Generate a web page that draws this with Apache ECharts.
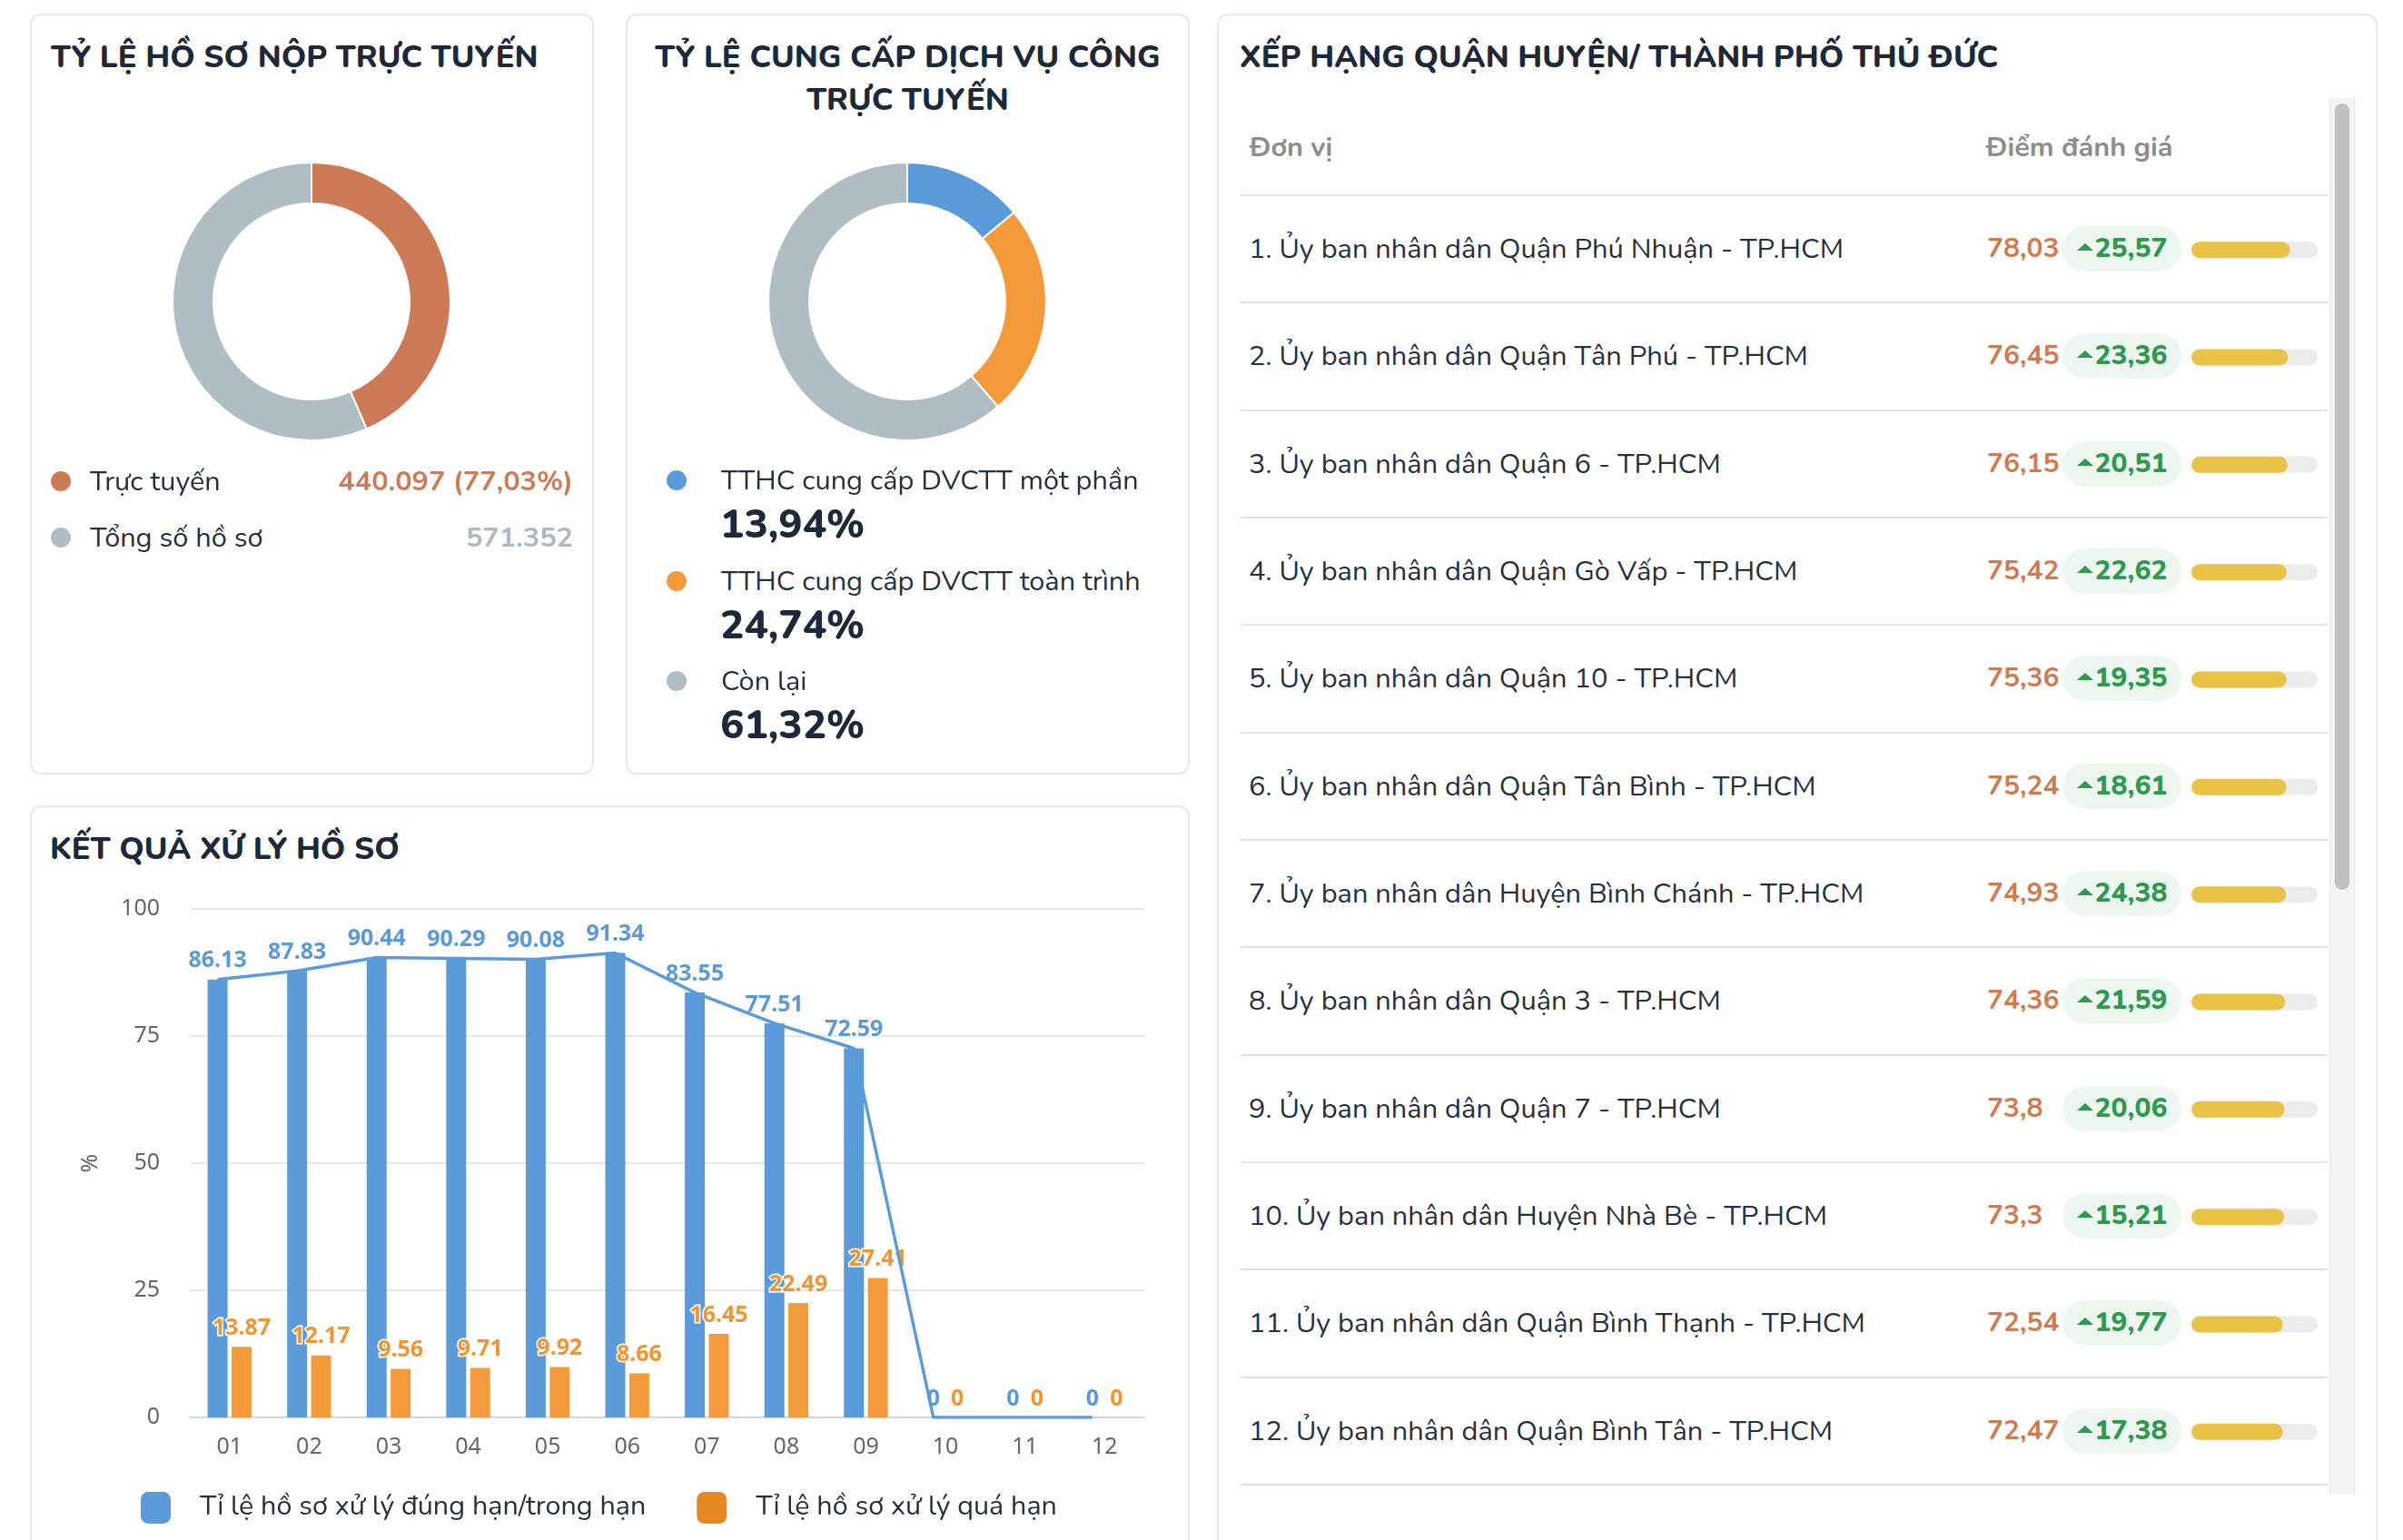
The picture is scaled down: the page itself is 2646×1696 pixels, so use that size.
<!DOCTYPE html>
<html lang="vi">
<head>
<meta charset="utf-8">
<script src="https://cdn.jsdelivr.net/npm/echarts@6/dist/echarts.min.js"></script>
<style>
html,body{margin:0;padding:0;background:#fff;width:2646px;height:1696px;overflow:hidden;
  font-family:"Nunito","Noto Sans",sans-serif;color:#27303d;}
.panel{position:absolute;box-sizing:border-box;border:2px solid #e8e8e8;border-radius:12px;background:#fff;}
.title{position:absolute;font-weight:800;font-size:34.6px;color:#1d2939;line-height:47px;white-space:nowrap;}
.dot{position:absolute;width:22px;height:22px;border-radius:50%;}
.lg{position:absolute;font-size:30.7px;line-height:40px;white-space:nowrap;color:#27303d;}
.lgv{position:absolute;font-size:44px;line-height:56px;font-weight:800;white-space:nowrap;color:#1d2939;}
#table{position:absolute;left:1366px;top:108px;width:1197px;}
.hdr{position:relative;height:108px;box-sizing:border-box;border-bottom:2px solid #e3e3e3;font-weight:700;color:#8d8d8d;font-size:30.7px;}
.hdr span{position:absolute;top:0;line-height:108px;}
.row{position:relative;height:118.33px;box-sizing:border-box;border-bottom:2px solid #e3e3e3;font-size:30.8px;}
.row .nm{position:absolute;left:9px;top:0;line-height:116px;color:#27303d;white-space:nowrap;}
.row .sc{position:absolute;left:822px;top:0;line-height:116px;color:#d07a50;font-weight:700;font-size:30px;}
.row .bd{position:absolute;left:905px;top:33px;width:131px;height:50px;border-radius:25px;background:#edf7f0;
  color:#2e9a50;font-weight:800;font-size:30px;line-height:50px;text-align:center;white-space:nowrap;}
.row .bd i{display:inline-block;width:0;height:0;border-left:9px solid transparent;border-right:9px solid transparent;
  border-bottom:8px solid #2e9a50;vertical-align:7px;margin-right:2px;}
</style>
</head>
<body>
<div class="panel" style="left:33px;top:15px;width:621px;height:838px;"></div>
<div class="panel" style="left:689px;top:15px;width:621px;height:838px;"></div>
<div class="panel" style="left:33px;top:887px;width:1277px;height:860px;"></div>
<div class="panel" style="left:1340px;top:15px;width:1278px;height:1750px;"></div>

<div class="title" style="left:56px;top:39px;">TỶ LỆ HỒ SƠ NỘP TRỰC TUYẾN</div>
<div class="title" style="left:689px;top:39px;width:621px;text-align:center;white-space:normal;">TỶ LỆ CUNG CẤP DỊCH VỤ CÔNG<br>TRỰC TUYẾN</div>
<div class="title" style="left:55px;top:911px;">KẾT QUẢ XỬ LÝ HỒ SƠ</div>
<div class="title" style="left:1365px;top:39px;">XẾP HẠNG QUẬN HUYỆN/ THÀNH PHỐ THỦ ĐỨC</div>

<div id="pie1" style="position:absolute;left:34px;top:15px;width:621px;height:500px;"></div>
<div id="pie2" style="position:absolute;left:690px;top:15px;width:620px;height:500px;"></div>
<div id="legend1"></div>
<div id="legend2"></div>

<div id="bars" style="position:absolute;left:34px;top:887px;width:1276px;height:809px;"></div>

<div id="table"></div>
<div id="prog" style="position:absolute;left:2413px;top:216px;width:139px;height:1420px;"></div>
<div style="position:absolute;left:2565px;top:108px;width:26px;height:1538px;background:#f4f4f4;border-left:1px solid #e6e6e6;border-right:1px solid #e6e6e6;"></div>
<div style="position:absolute;left:2571px;top:114px;width:16px;height:866px;background:#c1c1c1;border-radius:8px;"></div>

<script>
// ---------- data ----------
const onlineLabels = ['Trực tuyến', 'Tổng số hồ sơ'];
const onlineValues = [440097, 571352];
const onlineColors = ['#cd7b57', '#b0bdc4'];

const serviceLabels = ['TTHC cung cấp DVCTT một phần', 'TTHC cung cấp DVCTT toàn trình', 'Còn lại'];
const serviceValues = [13.94, 24.74, 61.32];
const serviceColors = ['#5a9bdc', '#f39a3b', '#b0bdc4'];

const months = ['01', '02', '03', '04', '05', '06', '07', '08', '09', '10', '11', '12'];
const onTimeRate = [86.13, 87.83, 90.44, 90.29, 90.08, 91.34, 83.55, 77.51, 72.59, 0, 0, 0];
const overdueRate = [13.87, 12.17, 9.56, 9.71, 9.92, 8.66, 16.45, 22.49, 27.41, 0, 0, 0];
const seriesNames = ['Tỉ lệ hồ sơ xử lý đúng hạn/trong hạn', 'Tỉ lệ hồ sơ xử lý quá hạn'];
const yTicks = [0, 25, 50, 75, 100];

const units = ['Ủy ban nhân dân Quận Phú Nhuận - TP.HCM', 'Ủy ban nhân dân Quận Tân Phú - TP.HCM',
  'Ủy ban nhân dân Quận 6 - TP.HCM', 'Ủy ban nhân dân Quận Gò Vấp - TP.HCM',
  'Ủy ban nhân dân Quận 10 - TP.HCM', 'Ủy ban nhân dân Quận Tân Bình - TP.HCM',
  'Ủy ban nhân dân Huyện Bình Chánh - TP.HCM', 'Ủy ban nhân dân Quận 3 - TP.HCM',
  'Ủy ban nhân dân Quận 7 - TP.HCM', 'Ủy ban nhân dân Huyện Nhà Bè - TP.HCM',
  'Ủy ban nhân dân Quận Bình Thạnh - TP.HCM', 'Ủy ban nhân dân Quận Bình Tân - TP.HCM'];
const scores = [78.03, 76.45, 76.15, 75.42, 75.36, 75.24, 74.93, 74.36, 73.8, 73.3, 72.54, 72.47];
const changes = [25.57, 23.36, 20.51, 22.62, 19.35, 18.61, 24.38, 21.59, 20.06, 15.21, 19.77, 17.38];

// ---------- helpers ----------
const vn = v => String(v).replace('.', ',');
const thousands = v => String(v).replace(/\B(?=(\d{3})+(?!\d))/g, '.');

// ---------- donuts ----------
function donut(el, labels, values, colors) {
  const c = echarts.init(document.getElementById(el), null, {renderer: 'canvas'});
  c.setOption({
    animation: false,
    series: [{
      type: 'pie', radius: [108, 153], center: [309, 317], startAngle: 90, clockwise: true,
      silent: true, label: {show: false}, labelLine: {show: false},
      itemStyle: {borderColor: '#fff', borderWidth: 2},
      data: labels.map((n, i) => ({name: n, value: values[i], itemStyle: {color: colors[i]}}))
    }]
  });
}
donut('pie1', onlineLabels, onlineValues, onlineColors);
donut('pie2', serviceLabels, serviceValues, serviceColors);

// legend 1
(function () {
  const pct = (onlineValues[0] / onlineValues[1] * 100).toFixed(2).replace('.', ',');
  const vals = [thousands(onlineValues[0]) + ' (' + pct + '%)', thousands(onlineValues[1])];
  const valColors = ['#cd7b57', '#adb9c1'];
  const ys = [530, 592];
  let h = '';
  onlineLabels.forEach((n, i) => {
    h += `<div class="dot" style="left:56px;top:${ys[i] - 11}px;background:${onlineColors[i]}"></div>`;
    h += `<div class="lg" style="left:99px;top:${ys[i] - 20}px;">${n}</div>`;
    h += `<div class="lg" style="left:290px;width:341px;text-align:right;top:${ys[i] - 20}px;color:${valColors[i]};font-weight:700;">${vals[i]}</div>`;
  });
  document.getElementById('legend1').innerHTML = h;
})();
// legend 2
(function () {
  const ys = [529, 640, 750];
  let h = '';
  serviceLabels.forEach((n, i) => {
    h += `<div class="dot" style="left:734px;top:${ys[i] - 11}px;background:${serviceColors[i]}"></div>`;
    h += `<div class="lg" style="left:794px;top:${ys[i] - 20}px;">${n}</div>`;
    h += `<div class="lgv" style="left:793px;top:${ys[i] + 49 - 28}px;">${vn(serviceValues[i])}%</div>`;
  });
  document.getElementById('legend2').innerHTML = h;
})();

// ---------- bar chart ----------
(function () {
  const c = echarts.init(document.getElementById('bars'));
  const labelBase = {show: true, position: 'top', distance: 8, fontSize: 25, fontWeight: 'bold',
    fontFamily: 'Noto Sans', textBorderColor: '#fff', textBorderWidth: 3};
  const gridBox = {top: 114, width: 1051, height: 560};
  c.setOption({
    animation: false,
    grid: [Object.assign({left: 175}, gridBox), Object.assign({left: 161.7}, gridBox)],
    legend: {
      left: 116, top: 751, itemWidth: 33, itemHeight: 35, itemGap: 56, icon: 'roundRect', selectedMode: false,
      textStyle: {fontSize: 30.5, color: '#27303d', fontFamily: 'Nunito, Noto Sans', padding: [0, 0, 0, 27]},
      data: [{name: seriesNames[0], itemStyle: {color: '#5b9bd9'}}, {name: seriesNames[1], itemStyle: {color: '#e8861f'}}]
    },
    xAxis: [
      {type: 'category', data: months, gridIndex: 0,
        axisLine: {lineStyle: {color: '#ccd6eb', width: 2}}, axisTick: {show: false},
        axisLabel: {color: '#666', fontSize: 25, margin: 20, fontFamily: 'Noto Sans'}},
      {type: 'category', data: months, gridIndex: 1, show: false}
    ],
    yAxis: [
      {type: 'value', min: yTicks[0], max: yTicks[yTicks.length - 1], interval: yTicks[1] - yTicks[0], gridIndex: 0,
        name: '%', nameLocation: 'middle', nameGap: 97, nameRotate: 90,
        nameTextStyle: {color: '#666', fontSize: 25, fontFamily: 'Noto Sans'},
        axisLine: {show: false}, axisTick: {show: false},
        axisLabel: {color: '#666', fontSize: 25, margin: 33, fontFamily: 'Noto Sans'},
        splitLine: {lineStyle: {color: '#e6e6e6', width: 2}}},
      {type: 'value', min: yTicks[0], max: yTicks[yTicks.length - 1], gridIndex: 1, show: false}
    ],
    series: [
      {name: seriesNames[0], type: 'bar', data: onTimeRate, barWidth: 22, barGap: '20%',
        itemStyle: {color: '#5b9bd9'}, label: Object.assign({color: '#5a9ad8'}, labelBase), silent: true},
      {name: seriesNames[1], type: 'bar', data: overdueRate, barWidth: 22,
        itemStyle: {color: '#f39a3b'}, label: Object.assign({color: '#f0952f'}, labelBase), silent: true},
      {name: 'trend', type: 'line', data: onTimeRate, xAxisIndex: 1, yAxisIndex: 1, symbol: 'none',
        lineStyle: {color: '#5b9bd9', width: 3.5}, silent: true}
    ]
  });
})();

// ---------- ranking table ----------
(function () {
  let h = '<div class="hdr"><span style="left:10px">Đơn vị</span><span style="left:821px">Điểm đánh giá</span></div>';
  units.forEach((u, i) => {
    h += `<div class="row"><span class="nm">${i + 1}. ${u}</span><span class="sc">${vn(scores[i])}</span>` +
      `<span class="bd"><i></i>${vn(changes[i])}</span></div>`;
  });
  document.getElementById('table').innerHTML = h;
  const c = echarts.init(document.getElementById('prog'));
  c.setOption({
    animation: false,
    grid: {left: 0, right: 0, top: 0, bottom: 0},
    xAxis: {type: 'value', min: 0, max: 100, show: false},
    yAxis: {type: 'category', data: units, inverse: true, show: false},
    series: [{type: 'bar', data: scores, barWidth: 18, silent: true,
      showBackground: true, backgroundStyle: {color: '#ececec', borderRadius: 9},
      itemStyle: {color: '#e9c246', borderRadius: 9}}]
  });
})();
</script>
</body>
</html>
